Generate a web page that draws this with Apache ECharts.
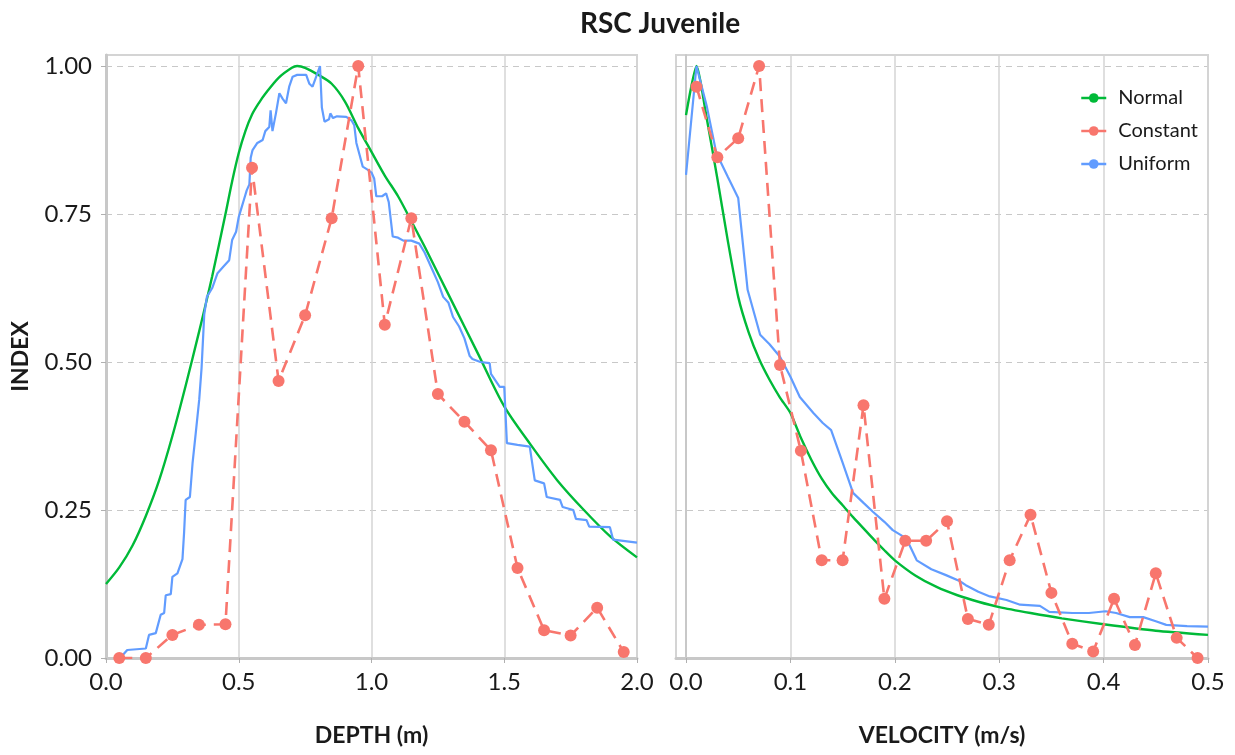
<!DOCTYPE html>
<html>
<head>
<meta charset="utf-8">
<script src="https://cdn.jsdelivr.net/npm/echarts@6/dist/echarts.min.js"></script>
<style>
html,body{margin:0;padding:0;background:#fff;}
#c{width:1235px;height:755px;}
</style>
</head>
<body>
<div id="c"></div>
<script>
// ---------- DATA ----------
const titleText = 'RSC Juvenile';
const seriesNames = ['Normal', 'Constant', 'Uniform'];
const depthTicks = ['0.0', '0.5', '1.0', '1.5', '2.0'];
const velocityTicks = ['0.0', '0.1', '0.2', '0.3', '0.4', '0.5'];
const indexTicks = ['0.00', '0.25', '0.50', '0.75', '1.00'];

// DEPTH panel
const depthNormalX = [0, 0.05, 0.1, 0.15, 0.2, 0.25, 0.3, 0.35, 0.4, 0.45, 0.475, 0.5, 0.525, 0.55, 0.575, 0.6, 0.65, 0.7, 0.72, 0.75, 0.8, 0.85, 0.9, 0.95, 1.0, 1.05, 1.1, 1.15, 1.2, 1.3, 1.4, 1.5, 1.6, 1.7, 1.8, 1.9, 2.0];
const depthNormalY = [0.125, 0.153, 0.19, 0.24, 0.30, 0.375, 0.46, 0.55, 0.645, 0.75, 0.805, 0.853, 0.89, 0.918, 0.937, 0.953, 0.98, 0.997, 1.0, 0.997, 0.985, 0.97, 0.94, 0.895, 0.855, 0.815, 0.78, 0.738, 0.695, 0.605, 0.515, 0.425, 0.36, 0.30, 0.25, 0.205, 0.17];

const depthConstantX = [0.05, 0.15, 0.25, 0.35, 0.45, 0.55, 0.65, 0.75, 0.85, 0.95, 1.05, 1.15, 1.25, 1.35, 1.45, 1.55, 1.65, 1.75, 1.85, 1.95];
const depthConstantY = [0.0, 0.0, 0.039, 0.056, 0.057, 0.828, 0.468, 0.579, 0.743, 1.0, 0.563, 0.743, 0.446, 0.399, 0.351, 0.152, 0.047, 0.038, 0.085, 0.01];

const depthUniformX = [0.0575, 0.08, 0.15, 0.162, 0.1875, 0.206, 0.219, 0.225, 0.244, 0.25, 0.269, 0.288, 0.294, 0.30, 0.316, 0.326, 0.338, 0.351, 0.36, 0.37, 0.38, 0.40, 0.42, 0.44, 0.464, 0.475, 0.49, 0.50, 0.51, 0.52, 0.53, 0.54, 0.545, 0.552, 0.57, 0.59, 0.60, 0.615, 0.62, 0.627, 0.64, 0.653, 0.665, 0.678, 0.69, 0.703, 0.72, 0.74, 0.754, 0.766, 0.778, 0.79, 0.806, 0.813, 0.823, 0.84, 0.845, 0.855, 0.87, 0.905, 0.925, 0.935, 0.943, 0.955, 0.967, 0.985, 1.0, 1.01, 1.018, 1.04, 1.055, 1.065, 1.08, 1.10, 1.12, 1.15, 1.18, 1.20, 1.23, 1.25, 1.27, 1.29, 1.307, 1.33, 1.35, 1.37, 1.38, 1.41, 1.445, 1.45, 1.483, 1.50, 1.51, 1.55, 1.596, 1.615, 1.65, 1.66, 1.71, 1.72, 1.76, 1.77, 1.81, 1.82, 1.898, 1.91, 1.917, 2.0];
const depthUniformY = [0.002, 0.0135, 0.016, 0.039, 0.042, 0.073, 0.076, 0.106, 0.108, 0.137, 0.143, 0.167, 0.211, 0.267, 0.272, 0.329, 0.38, 0.436, 0.49, 0.58, 0.61, 0.625, 0.65, 0.66, 0.672, 0.706, 0.72, 0.745, 0.76, 0.775, 0.79, 0.80, 0.845, 0.858, 0.87, 0.875, 0.89, 0.897, 0.925, 0.89, 0.92, 0.954, 0.945, 0.937, 0.965, 0.982, 0.985, 0.985, 0.985, 0.97, 0.965, 0.98, 1.0, 0.93, 0.906, 0.91, 0.92, 0.912, 0.915, 0.914, 0.908, 0.9, 0.87, 0.85, 0.83, 0.825, 0.82, 0.81, 0.78, 0.78, 0.785, 0.77, 0.712, 0.71, 0.705, 0.705, 0.70, 0.685, 0.655, 0.635, 0.61, 0.60, 0.576, 0.56, 0.54, 0.51, 0.505, 0.50, 0.498, 0.48, 0.458, 0.458, 0.363, 0.36, 0.357, 0.30, 0.295, 0.272, 0.267, 0.255, 0.25, 0.235, 0.233, 0.222, 0.221, 0.20, 0.197, 0.195];

// VELOCITY panel
const velNormalX = [0, 0.01, 0.02, 0.03, 0.04, 0.05, 0.06, 0.07, 0.08, 0.09, 0.1, 0.11, 0.12, 0.13, 0.14, 0.15, 0.16, 0.17, 0.18, 0.19, 0.2, 0.22, 0.24, 0.26, 0.28, 0.3, 0.33, 0.36, 0.4, 0.45, 0.5];
const velNormalY = [0.917, 1.0, 0.91, 0.81, 0.705, 0.61, 0.55, 0.505, 0.47, 0.44, 0.414, 0.372, 0.335, 0.303, 0.278, 0.258, 0.238, 0.219, 0.2, 0.182, 0.165, 0.139, 0.12, 0.106, 0.095, 0.086, 0.076, 0.067, 0.057, 0.046, 0.039];

const velConstantX = [0.01, 0.03, 0.05, 0.07, 0.09, 0.11, 0.13, 0.15, 0.17, 0.19, 0.21, 0.23, 0.25, 0.27, 0.29, 0.31, 0.33, 0.35, 0.37, 0.39, 0.41, 0.43, 0.45, 0.47, 0.49];
const velConstantY = [0.965, 0.846, 0.878, 1.0, 0.495, 0.35, 0.165, 0.165, 0.427, 0.10, 0.198, 0.198, 0.231, 0.066, 0.056, 0.165, 0.242, 0.11, 0.024, 0.011, 0.10, 0.022, 0.143, 0.034, 0.0];

const velUniformX = [0, 0.01, 0.02, 0.029, 0.04, 0.05, 0.059, 0.071, 0.08, 0.09, 0.1, 0.109, 0.122, 0.131, 0.139, 0.15, 0.16, 0.17, 0.179, 0.19, 0.198, 0.211, 0.221, 0.235, 0.249, 0.262, 0.268, 0.28, 0.291, 0.307, 0.32, 0.339, 0.348, 0.37, 0.386, 0.402, 0.412, 0.425, 0.438, 0.45, 0.46, 0.48, 0.5];
const velUniformY = [0.816, 1.0, 0.931, 0.853, 0.813, 0.777, 0.622, 0.546, 0.53, 0.509, 0.475, 0.441, 0.414, 0.397, 0.385, 0.33, 0.279, 0.262, 0.247, 0.23, 0.216, 0.202, 0.165, 0.15, 0.14, 0.13, 0.123, 0.112, 0.104, 0.098, 0.09, 0.088, 0.078, 0.076, 0.076, 0.079, 0.076, 0.069, 0.069, 0.062, 0.056, 0.054, 0.053];

// ---------- CHART ----------
const zip = (xs, ys) => xs.map((x, i) => [x, ys[i]]);
const COL = { Normal: '#00BA38', Constant: '#F8766D', Uniform: '#619CFF' };
const FONT = 'Lato';
const TXT = '#1a1a1a';
const GRID_GREY = '#d4d4d4';

function xAxisCfg(gridIndex, min, max, interval, ticks, name) {
  const cfg = {
    type: 'value', gridIndex, min, max,
    name, nameLocation: 'middle', nameGap: 66,
    nameTextStyle: { fontFamily: FONT, fontSize: 23, fontWeight: 'bold', color: TXT },
    axisLine: { show: true, lineStyle: { color: '#c8c8c8', width: 3 } },
    axisTick: { show: true, length: 5, lineStyle: { color: '#b0b0b0' } },
    axisLabel: {
      show: true, margin: 12, fontFamily: FONT, fontSize: 24, color: TXT,
      showMinLabel: min >= 0, showMaxLabel: true,
      formatter: v => { const i = Math.round(v / interval); return Math.abs(v - i * interval) < 1e-6 ? ticks[i] : ''; }
    },
    splitLine: { show: true, showMinLine: false, lineStyle: { color: GRID_GREY, width: 1.5, type: 'solid' } }
  };
  if (min >= 0) cfg.interval = interval; else cfg.splitNumber = 5;
  return cfg;
}
function yAxisCfg(gridIndex, showLabels) {
  return {
    type: 'value', gridIndex, min: 0, max: 1.0186, interval: 0.25,
    name: showLabels ? 'INDEX' : '', nameLocation: 'middle', nameGap: 74,
    nameTextStyle: { fontFamily: FONT, fontSize: 23, fontWeight: 'bold', color: TXT },
    axisLine: { show: true, lineStyle: { color: '#c8c8c8', width: showLabels ? 3 : 2 } },
    axisTick: { show: showLabels, length: 5, lineStyle: { color: '#b0b0b0' } },
    axisLabel: {
      show: showLabels, margin: 14, fontFamily: FONT, fontSize: 24, color: TXT,
      showMaxLabel: false,
      formatter: v => { const i = Math.round(v / 0.25); return Math.abs(v - i * 0.25) < 1e-6 ? indexTicks[i] : ''; }
    },
    splitLine: { show: true, showMaxLine: false, showMinLine: false, lineStyle: { color: '#c8c8c8', width: 1.2, type: [6, 5] } }
  };
}
function lineSeries(name, xi, data, extra) {
  return Object.assign({
    name, type: 'line', xAxisIndex: xi, yAxisIndex: xi, data,
    symbol: 'circle', showSymbol: false, animation: false,
    lineStyle: { color: COL[name], width: 2.2 },
    itemStyle: { color: COL[name] }
  }, extra || {});
}
function constantSeries(xi, data) {
  return lineSeries('Constant', xi, data, {
    showSymbol: true, symbolSize: 12,
    lineStyle: { color: COL.Constant, width: 2.6, type: [13, 8] },
    z: 5
  });
}

const chart = echarts.init(document.getElementById('c'), null, { renderer: 'canvas' });
chart.setOption({
  backgroundColor: '#ffffff',
  animation: false,
  title: {
    text: titleText, left: 655, top: 5, textAlign: 'center',
    textStyle: { fontFamily: FONT, fontSize: 28, fontWeight: 'bold', color: TXT }
  },
  legend: {
    data: seriesNames, orient: 'vertical', left: 1075, top: 83, itemGap: 13,
    itemWidth: 25, itemHeight: 12,
    lineStyle: { type: 'solid', width: 2.5 },
    textStyle: { fontFamily: FONT, fontSize: 20, color: TXT, lineHeight: 20, padding: [0, 0, 0, 7] }
  },
  grid: [
    { left: 106, top: 55, width: 531, height: 603, show: true, borderColor: GRID_GREY, borderWidth: 2, backgroundColor: '#fff' },
    { left: 676, top: 55, width: 532, height: 603, show: true, borderColor: GRID_GREY, borderWidth: 2, backgroundColor: '#fff' }
  ],
  xAxis: [
    xAxisCfg(0, 0, 2, 0.5, depthTicks, 'DEPTH (m)'),
    xAxisCfg(1, -0.0096, 0.5, 0.1, velocityTicks, 'VELOCITY (m/s)')
  ],
  yAxis: [yAxisCfg(0, true), yAxisCfg(1, false)],
  series: [
    lineSeries('Normal', 0, zip(depthNormalX, depthNormalY), { smooth: 0.3, lineStyle: { color: COL.Normal, width: 2.4 } }),
    lineSeries('Uniform', 0, zip(depthUniformX, depthUniformY)),
    constantSeries(0, zip(depthConstantX, depthConstantY)),
    lineSeries('Normal', 1, zip(velNormalX, velNormalY), { smooth: 0.2, lineStyle: { color: COL.Normal, width: 2.4 } }),
    lineSeries('Uniform', 1, zip(velUniformX, velUniformY)),
    constantSeries(1, zip(velConstantX, velConstantY))
  ]
});
</script>
</body>
</html>
